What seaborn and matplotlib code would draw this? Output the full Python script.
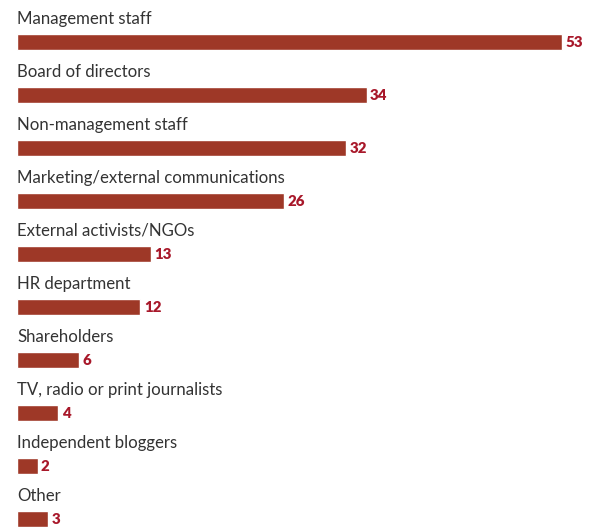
import matplotlib
matplotlib.use("Agg")
import matplotlib.pyplot as plt
import seaborn as sns
import pandas as pd

categories = [
    "Management staff",
    "Board of directors",
    "Non-management staff",
    "Marketing/external communications",
    "External activists/NGOs",
    "HR department",
    "Shareholders",
    "TV, radio or print journalists",
    "Independent bloggers",
    "Other",
]
values = [53, 34, 32, 26, 13, 12, 6, 4, 2, 3]

df = pd.DataFrame({"category": categories, "value": values})

sns.set_theme(style="white")
plt.rcParams["font.family"] = ["Lato", "DejaVu Sans"]

fig = plt.figure(figsize=(5.95, 5.27), dpi=100)
ax = fig.add_axes([0, 0, 1, 1])

bar_color = "#9e3827"
sns.barplot(data=df, x="value", y="category", orient="h", color=bar_color,
            width=0.32, ax=ax, saturation=1)

px_per_unit = 545 / 53
ax.set_xlim(-17 / px_per_unit, (595 - 17) / px_per_unit)
ax.set_ylim(485 / 53, -42 / 53)
ax.axis("off")

for i, (cat, val) in enumerate(zip(categories, values)):
    ax.text(0, i - 0.34, cat, ha="left", va="baseline", fontsize=12.1,
            color="#333333")
    ax.text(val + 0.33, i + 0.01, str(val), ha="left", va="center",
            fontsize=10.8, fontweight="heavy", color="#a8182a")

fig.savefig("out.png", dpi=100)
